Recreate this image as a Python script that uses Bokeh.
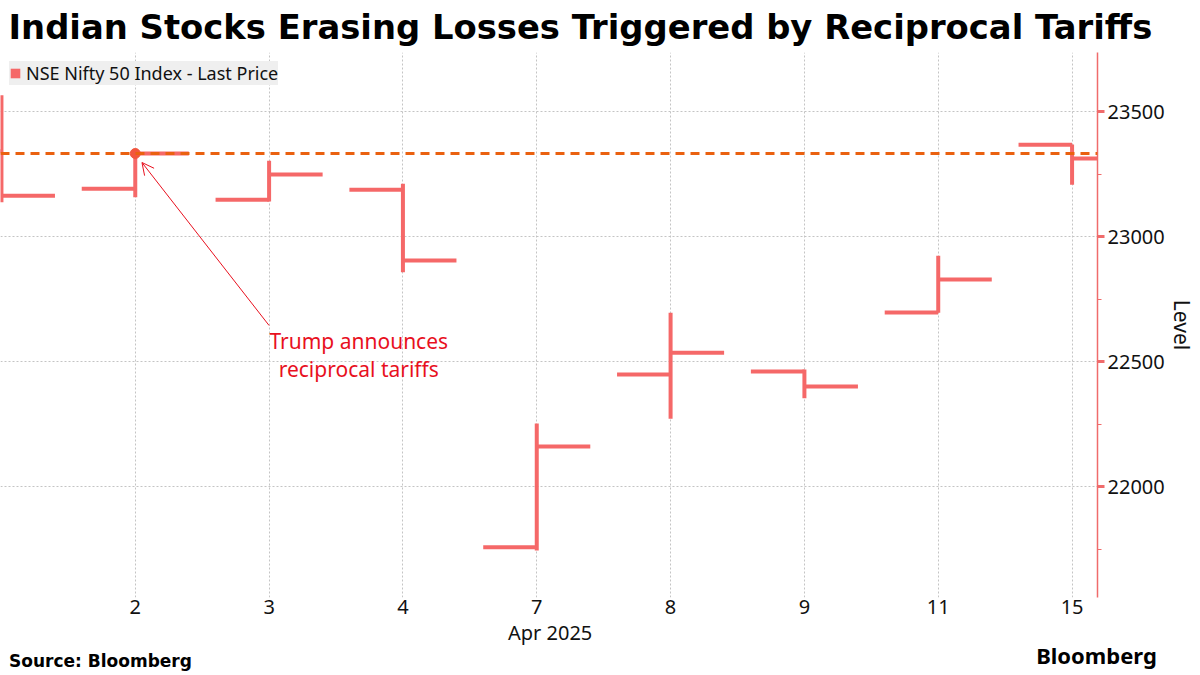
from bokeh.plotting import figure
from bokeh.models import (Range1d, FixedTicker, Span, Label, Arrow, OpenHead,
                          Legend, LegendItem, ColumnDataSource, LinearAxis, Title)
from bokeh.embed import file_html
from bokeh.resources import INLINE

# ---- data (NSE Nifty 50, daily OHLC, April 2025) ----
days = ["1", "2", "3", "4", "7", "8", "9", "11", "15"]
opens = [23341, 23191, 23147, 23187, 21757, 22448, 22460, 22696, 23367]
highs = [23565, 23350, 23303, 23211, 22252, 22695, 22468, 22923, 23368]
lows = [23137, 23157, 23140, 22857, 21744, 22271, 22353, 22695, 23207]
closes = [23163, 23332, 23248, 22904, 22160, 22535, 22400, 22828, 23312]
ref_index = 1  # Apr 2: Trump announces reciprocal tariffs
month_label = "Apr 2025"
y_ticks = [22000, 22500, 23000, 23500]
y_minor = [21750, 22250, 22750, 23250, 23750]

TITLE = "Indian Stocks Erasing Losses Triggered by Reciprocal Tariffs"
SOURCE = "Source: Bloomberg"
LOGO = "Bloomberg"

BAR = "#f56868"
DASH = "#ea6110"
ANN = "#e8101e"

x = list(range(len(days)))
half = 0.40
FW = 1097

p = figure(frame_width=FW, frame_height=545,
           min_border_left=0, min_border_right=103, min_border_top=52, min_border_bottom=78,
           x_range=Range1d(-0.007, 8.19), y_range=Range1d(21556, 23736),
           y_axis_location="right", toolbar_location=None, output_backend="svg", title=None)
p.outline_line_color = None
p.background_fill_color = "white"
p.border_fill_color = "white"
p.extra_x_ranges = {"px": Range1d(0, FW)}

p.add_layout(Title(text=TITLE, align="left", offset=8, standoff=11,
                   text_font="DejaVu Sans", text_font_style="bold", text_font_size="33.8px",
                   text_color="#000000"), "above")

src = ColumnDataSource(dict(x=x, xl=[i - half for i in x], xr=[i + half for i in x],
                            o=opens, h=highs, l=lows, c=closes))
p.segment(x0="x", y0="l", x1="x", y1="h", source=src, line_color=BAR, line_width=4)
p.segment(x0="xl", y0="o", x1="x", y1="o", source=src, line_color=BAR, line_width=4)
p.segment(x0="x", y0="c", x1="xr", y1="c", source=src, line_color=BAR, line_width=4)

# reference level: close on announcement day
p.add_layout(Span(location=closes[ref_index], dimension="width", line_color=DASH,
                  line_dash="9 6", line_width=3))
p.scatter(x=[x[ref_index]], y=[closes[ref_index]], size=10, fill_color="#f2553e",
          line_color="#f2553e")

# annotation
p.add_layout(Arrow(end=OpenHead(size=12, line_color=ANN, line_width=1),
                   x_start=x[ref_index] + 1.0, y_start=22644,
                   x_end=x[ref_index] + 0.05, y_end=closes[ref_index] - 36,
                   line_color=ANN, line_width=1))
p.add_layout(Label(x=x[ref_index] + 1.67, y=22528, text="Trump announces\nreciprocal tariffs",
                   text_align="center", text_baseline="middle", text_color=ANN,
                   text_font="Noto Sans", text_font_size="21px", text_line_height=1.0))

# grids
p.xgrid.ticker = FixedTicker(ticks=x[1:])
p.ygrid.ticker = FixedTicker(ticks=y_ticks)
for g in (p.xgrid, p.ygrid):
    g.grid_line_color = "#c4c4c4"
    g.grid_line_dash = "2 2"
    g.grid_line_width = 1


def bare(ax, font, size, standoff, style="normal"):
    ax.axis_line_color = None
    ax.major_tick_line_color = None
    ax.minor_tick_line_color = None
    ax.major_tick_out = 0
    ax.major_tick_in = 0
    ax.major_label_text_font = font
    ax.major_label_text_font_size = size
    ax.major_label_text_font_style = style
    ax.major_label_text_color = "#111111"
    ax.major_label_standoff = standoff


# x axis: day numbers
xa = p.xaxis[0]
xa.ticker = FixedTicker(ticks=x[1:])
xa.major_label_overrides = {i: days[i] for i in x}
bare(xa, "Noto Sans", "20px", 2)

# second x axis: month label
mpos = x[4] + 0.1
xm = LinearAxis(ticker=FixedTicker(ticks=[mpos]), major_label_overrides={mpos: month_label})
bare(xm, "Noto Sans", "20px", 2)
p.add_layout(xm, "below")

# footer: source (left) and logo (right), as pixel-positioned axis labels (centred)
src_pos = 100
logo_pos = 1096
xs = LinearAxis(x_range_name="px", ticker=FixedTicker(ticks=[src_pos]),
                major_label_overrides={src_pos: SOURCE})
bare(xs, "DejaVu Sans", "17px", 2, "bold")
xs.major_label_text_color = "#000000"
p.add_layout(xs, "below")

xl = LinearAxis(x_range_name="px", ticker=FixedTicker(ticks=[logo_pos]),
                major_label_overrides={logo_pos: LOGO})
bare(xl, "Noto Sans", "22px", -34, "bold")
xl.major_label_text_color = "#000000"
p.add_layout(xl, "below")

# y axis (right)
ya = p.yaxis[0]
ya.ticker = FixedTicker(ticks=y_ticks, minor_ticks=y_minor)
ya.axis_line_color = "#f06b6b"
ya.axis_line_width = 1.5
ya.major_tick_line_color = "#f06b6b"
ya.major_tick_line_width = 3
ya.major_tick_out = 7
ya.major_tick_in = 0
ya.minor_tick_line_color = "#f06b6b"
ya.minor_tick_out = 4
ya.minor_tick_in = 0
ya.major_label_text_font = "Noto Sans"
ya.major_label_text_font_size = "20px"
ya.major_label_text_color = "#111111"
ya.major_label_standoff = 3
ya.axis_label = "Level"
ya.axis_label_text_font = "Noto Sans"
ya.axis_label_text_font_size = "21px"
ya.axis_label_text_font_style = "normal"
ya.axis_label_text_color = "#111111"
ya.axis_label_standoff = 0

# legend: zero-size quads give the legend its filled square
swatch = p.quad(left=x, right=x, top=closes, bottom=closes, fill_color=BAR, line_color=None)
legend = Legend(items=[LegendItem(label="NSE Nifty 50 Index - Last Price", renderers=[swatch])],
                location="top_left", background_fill_color="#efefef", background_fill_alpha=1,
                border_line_color=None, margin=9, padding=9, glyph_width=12, glyph_height=12,
                label_standoff=5, label_height=20, label_text_font="Noto Sans",
                label_text_font_size="18px", label_text_color="#111111")
p.add_layout(legend)

open("out.html", "w").write(file_html(p, INLINE))
